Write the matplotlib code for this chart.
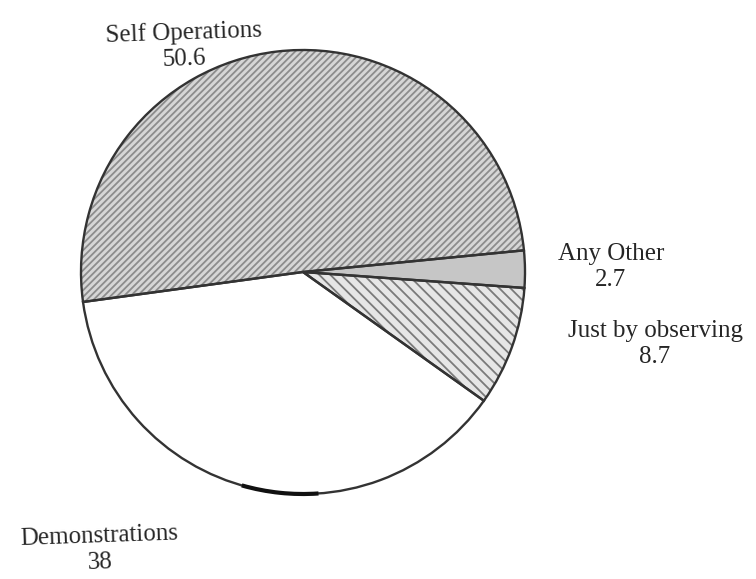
import numpy as np
import matplotlib
matplotlib.use("Agg")
import matplotlib.pyplot as plt
from matplotlib.patches import Arc

# share of respondents by mode of learning (%)
labels = ["Self Operations", "Demonstrations", "Just by observing", "Any Other"]
shares = [50.6, 38, 8.7, 2.7]
value_text = ["50.6", "38", "8.7", "2.7"]

plt.rc('font', family=['Liberation Serif', 'DejaVu Serif'])
plt.rc('hatch', linewidth=1.3)

W, H = 756, 579
fig = plt.figure(figsize=(W/100, H/100), dpi=100)
ax = fig.add_axes([0, 0, 1, 1])

cen = (303, H - 272)
rad = 222
start = 5.6

faces = ['#d6d6d6', 'white', '#e6e6e6', '#c6c6c6']
hatches = ['/////', None, '\\\\\\', None]
hcols = ['#8c8c8c', 'white', '#7a7a7a', '#c6c6c6']

# filled, hatched wedges
wedges, _ = ax.pie(shares, startangle=start, counterclock=True,
                   center=cen, radius=rad, frame=True)
for w, fc, hc, ht in zip(wedges, faces, hcols, hatches):
    w.set_facecolor(fc)
    w.set_edgecolor(hc)
    w.set_linewidth(0)
    if ht:
        w.set_hatch(ht)

# outlines on top
outl, _ = ax.pie(shares, startangle=start, counterclock=True,
                 center=cen, radius=rad, frame=True,
                 wedgeprops=dict(fill=False, edgecolor='#333333', linewidth=1.7))

# darker stroke along the bottom of the rim
ax.add_patch(Arc(cen, 2*rad, 2*rad, theta1=254, theta2=274,
                 color='#111111', lw=3.0))

ax.set_xlim(0, W)
ax.set_ylim(0, H)
ax.set_aspect('equal')
ax.axis('off')

txt = dict(ha='center', va='center', color='#262626', fontsize=18, linespacing=1.25)
ax.text(184, H - 46, labels[0] + "\n" + value_text[0], rotation=2, **txt)
ax.text(100, H - 549, labels[1] + "\n" + value_text[1], rotation=2, **txt)
ax.text(655, H - 344, labels[2] + "\n" + value_text[2], **txt)
ax.text(611, H - 267, labels[3] + "\n" + value_text[3], **txt)

plt.savefig('out.png', dpi=100)
